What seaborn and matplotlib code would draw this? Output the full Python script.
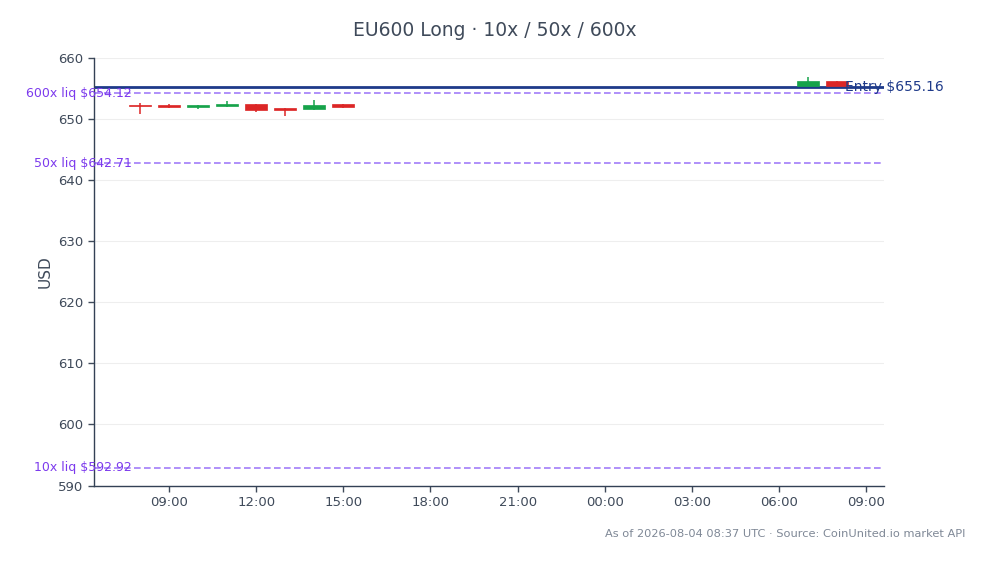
import seaborn as sns
import matplotlib.pyplot as plt
import matplotlib.dates as mdates
import pandas as pd

# hourly candles
times = ['2026-08-03 08:00', '2026-08-03 09:00', '2026-08-03 10:00', '2026-08-03 11:00',
         '2026-08-03 12:00', '2026-08-03 13:00', '2026-08-03 14:00', '2026-08-03 15:00',
         '2026-08-04 07:00', '2026-08-04 08:00']
opens = [652.2, 652.1, 651.9, 652.0, 652.4, 651.7, 651.6, 652.4, 655.4, 656.2]
highs = [652.6, 652.4, 652.3, 652.9, 652.4, 651.8, 653.1, 652.4, 656.8, 656.2]
lows = [650.7, 651.7, 651.6, 651.9, 651.1, 650.4, 651.5, 651.7, 655.4, 655.3]
closes = [652.0, 651.95, 652.2, 652.4, 651.4, 651.5, 652.2, 651.9, 656.2, 655.4]

entry = 655.16
liq_names = ['10x', '50x', '600x']
liq_prices = [592.92, 642.71, 654.12]

df = pd.DataFrame({'time': pd.to_datetime(times), 'open': opens, 'high': highs,
                   'low': lows, 'close': closes})
df['up'] = df['close'] >= df['open']

sns.set_theme(style='white')
plt.rcParams['font.family'] = ['DejaVu Sans']
text_c = '#3f4a5a'
up_c, down_c = '#16a34a', '#dc2626'
liq_c = '#7c3aed'
entry_c = '#1e3a8a'

fig = plt.figure(figsize=(9.89, 5.64), dpi=100)
ax = fig.add_axes([0.095, 0.139, 0.799, 0.759])

width = pd.Timedelta(minutes=45) / pd.Timedelta(days=1)
colors = [up_c if u else down_c for u in df['up']]
ax.vlines(df['time'], df['low'], df['high'], colors=colors, linewidth=1.1, zorder=3)
body_low = df[['open', 'close']].min(axis=1)
body_h = (df['close'] - df['open']).abs().clip(lower=0.3)
ax.bar(df['time'], body_h, bottom=body_low, width=width, color=colors,
       edgecolor=colors, linewidth=0.5, zorder=4)

ax.axhline(entry, color=entry_c, linewidth=2, zorder=2)
ax.text(df['time'].iloc[-1] + pd.Timedelta(minutes=17), entry, f'Entry ${entry:.2f}',
        color=entry_c, fontsize=10, ha='left', va='center', zorder=5)

for name, p in zip(liq_names, liq_prices):
    ax.axhline(p, color='#8b5cf6', alpha=0.8, linewidth=1.2, linestyle=(0, (4, 2)), zorder=2)
    ax.text(0.048, p, f'{name} liq ${p:.2f}', transform=ax.get_yaxis_transform(),
            color=liq_c, fontsize=9, ha='right', va='center', zorder=5)

ax.set_ylim(590, 660)
ax.set_yticks(range(590, 661, 10))
ax.set_xlim(pd.Timestamp('2026-08-03 06:25'), pd.Timestamp('2026-08-04 09:37'))
ax.xaxis.set_major_locator(mdates.HourLocator(byhour=range(0, 24, 3)))
ax.xaxis.set_major_formatter(mdates.DateFormatter('%H:%M'))

ax.grid(axis='y', color='#eeeeee', linewidth=0.8)
ax.set_axisbelow(True)
for s in ['top', 'right']:
    ax.spines[s].set_visible(False)
for s in ['left', 'bottom']:
    ax.spines[s].set_color('#334155')
    ax.spines[s].set_linewidth(1)
ax.tick_params(axis='both', colors=text_c, labelsize=9.5, length=4, width=1, left=True, bottom=True)
ax.set_ylabel('USD', color=text_c, fontsize=11)
ax.set_xlabel('')

fig.suptitle('EU600 Long · 10x / 50x / 600x', color=text_c, fontsize=13.5, y=0.962)
fig.text(0.976, 0.054, 'As of 2026-08-04 08:37 UTC · Source: CoinUnited.io market API',
         color='#7f8896', fontsize=8.2, ha='right', va='center')

fig.savefig('out.png', dpi=100)
